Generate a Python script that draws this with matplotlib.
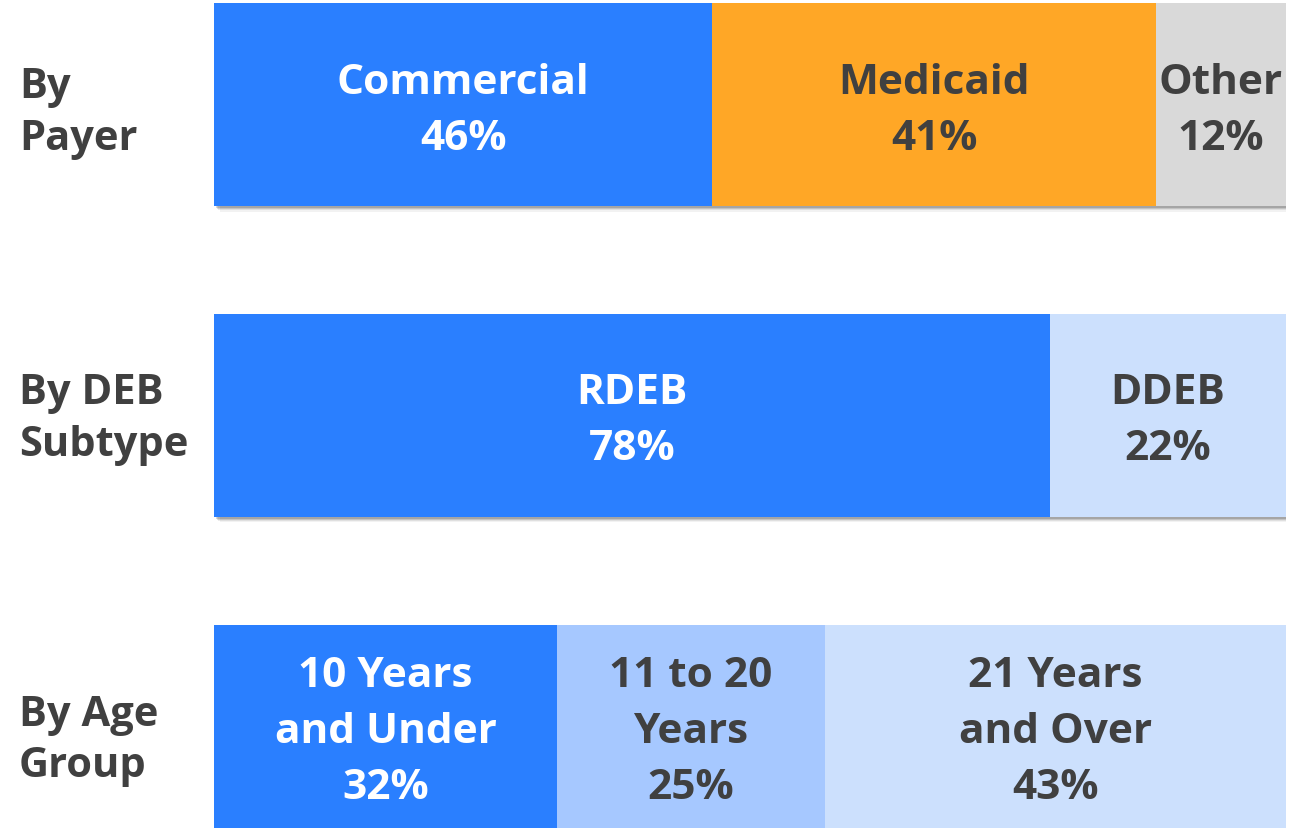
import matplotlib
matplotlib.use("Agg")
import matplotlib.pyplot as plt
import matplotlib.patheffects as pe
import matplotlib.transforms as mtransforms

plt.rcParams['font.family'] = ['Open Sans', 'DejaVu Sans']
plt.rcParams['font.weight'] = 'bold'

# Data
rows = ["By\nPayer", "By DEB\nSubtype", "By Age\nGroup"]

payer_labels = ["Commercial", "Medicaid", "Other"]
payer_values = [46, 41, 12]
payer_colors = ["#2A7FFF", "#FFA726", "#D9D9D9"]

subtype_labels = ["RDEB", "DDEB"]
subtype_values = [78, 22]
subtype_colors = ["#2A7FFF", "#CCE0FD"]

age_labels = ["10 Years\nand Under", "11 to 20\nYears", "21 Years\nand Over"]
age_values = [32, 25, 43]
age_colors = ["#2A7FFF", "#A6C8FF", "#CCE0FD"]

groups = [
    (payer_labels, payer_values, payer_colors),
    (subtype_labels, subtype_values, subtype_colors),
    (age_labels, age_values, age_colors),
]

W, H = 1307, 829
fig = plt.figure(figsize=(W / 100, H / 100), dpi=100)
ax = fig.add_axes([214 / W, 0, 1072 / W, 1])

bar_h = 0.653
dark = "#404040"

shadow = [pe.SimplePatchShadow(offset=(o, -o), shadow_rgbFace="black", alpha=a)
          for o, a in [(4.0, 0.05), (3.2, 0.08), (2.4, 0.12), (1.6, 0.15)]]
shadow.append(pe.Normal())

for i, (labels, values, colors) in enumerate(groups):
    total = sum(values)
    # background bar carrying the drop shadow
    ax.barh(i, 100, height=bar_h, color="white", path_effects=shadow, zorder=1)
    left = 0
    for lab, v, c in zip(labels, values, colors):
        w = v / total * 100
        ax.barh(i, w, left=left, height=bar_h, color=c, zorder=2)
        tc = "white" if c == "#2A7FFF" else dark
        ax.text(left + w / 2, i + 0.018, f"{lab}\n{v}%", ha="center", va="center",
                color=tc, fontsize=30.5, fontweight="bold", linespacing=1.48, zorder=3)
        left += w

# row labels sit a little lower as you go down
label_dy = [0.026, 0.01, 0.045]
trans = mtransforms.blended_transform_factory(fig.transFigure, ax.transData)
for i, r in enumerate(rows):
    ax.text(19 / W, i + label_dy[i], r, transform=trans, ha="left", va="center",
            color=dark, fontsize=30, fontweight="bold", linespacing=1.33)

ax.set_xlim(0, 100)
ax.set_ylim(2.328, -0.3395)
ax.axis("off")

fig.savefig("out.png", dpi=100, facecolor="white")
